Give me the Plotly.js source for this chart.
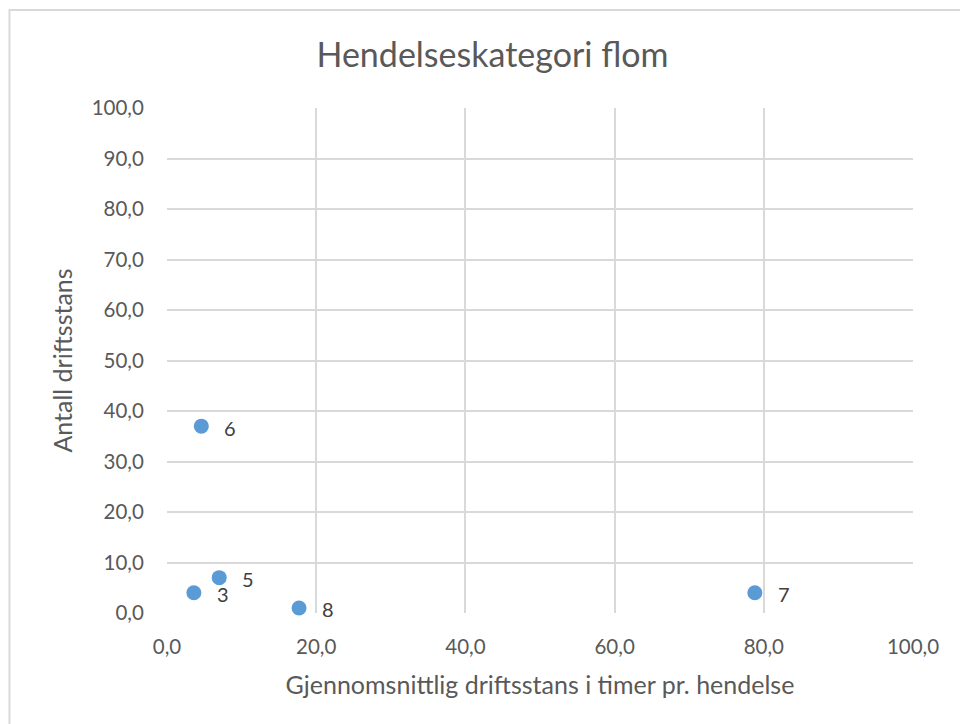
<!DOCTYPE html>
<html>
<head>
<meta charset="utf-8">
<script src="https://cdn.plot.ly/plotly-3.0.1.min.js"></script>
<style>html,body{margin:0;padding:0;background:#fff;}#chart{width:960px;height:724px;}</style>
</head>
<body>
<div id="chart"></div>
<script>
const labels = ["6", "5", "3", "8", "7"];
const hours = [4.6, 7.0, 3.6, 17.7, 78.8];
const counts = [37, 7, 4, 1, 4];
const tickVals = [0, 20, 40, 60, 80, 100];
const yTickVals = [0, 10, 20, 30, 40, 50, 60, 70, 80, 90, 100];

const font = "Lato, 'Open Sans', sans-serif";
const gray = "#595959";

const trace = {
  type: "scatter",
  mode: "markers",
  x: hours,
  y: counts,
  marker: {size: 15, color: "#5b9bd5"},
  hoverinfo: "x+y",
  cliponaxis: false
};

const annotations = labels.map((t, i) => ({
  x: hours[i], y: counts[i], xref: "x", yref: "y",
  text: t, showarrow: false, xanchor: "center", yanchor: "middle",
  xshift: 29, yshift: -1.5,
  font: {family: font, size: 20, color: "#404040"}
}));

const layout = {
  width: 960, height: 724,
  paper_bgcolor: "#ffffff", plot_bgcolor: "#ffffff",
  margin: {l: 167, r: 47, t: 108, b: 111},
  separators: ", ",
  showlegend: false,
  title: {
    text: "Hendelseskategori flom",
    font: {family: font, size: 34, color: gray},
    xref: "container", x: 0.513, xanchor: "center",
    yref: "container", y: 1 - 55/724, yanchor: "middle"
  },
  xaxis: {
    range: [0, 100], tickvals: tickVals, tickformat: ".1f",
    showgrid: true, gridcolor: "#d9d9d9", gridwidth: 2,
    zeroline: false, showline: false,
    ticks: "outside", ticklen: 15, tickcolor: "rgba(0,0,0,0)",
    tickfont: {family: font, size: 20.5, color: gray},
    title: {text: "Gjennomsnittlig driftsstans i timer pr. hendelse",
      font: {family: font, size: 25, color: gray}, standoff: 19},
    fixedrange: true
  },
  yaxis: {
    range: [0, 100], tickvals: yTickVals, tickformat: ".1f",
    showgrid: true, gridcolor: "#d9d9d9", gridwidth: 2,
    zeroline: false, showline: false,
    ticks: "outside", ticklen: 18, tickcolor: "rgba(0,0,0,0)",
    tickfont: {family: font, size: 20.5, color: gray},
    title: {text: "Antall driftsstans",
      font: {family: font, size: 25, color: gray}, standoff: 11},
    fixedrange: true
  },
  shapes: [
    {type: "rect", xref: "paper", yref: "paper",
     x0: (9.5 - 167) / 746, x1: (975 - 167) / 746,
     y0: (613 - 740) / 505, y1: (613 - 10) / 505,
     line: {color: "#d9d9d9", width: 2}, fillcolor: "rgba(0,0,0,0)", layer: "below"}
  ],
  annotations: annotations
};

Plotly.newPlot("chart", [trace], layout, {displayModeBar: false, staticPlot: true});
</script>
</body>
</html>
